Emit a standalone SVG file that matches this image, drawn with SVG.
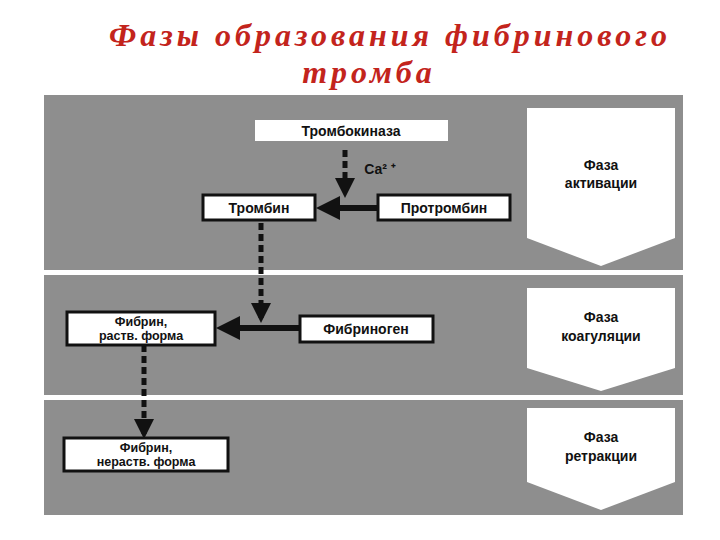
<svg xmlns="http://www.w3.org/2000/svg" width="720" height="540" viewBox="0 0 720 540">
<defs>
<marker id="ah" markerWidth="4" markerHeight="4" refX="3" refY="2" orient="auto" markerUnits="strokeWidth"><path d="M0,0 L4,2 L0,4 Z" fill="#111"/></marker>
<style>
.t{font-family:"Liberation Sans",Arial,sans-serif;font-weight:bold;font-size:14px;fill:#111;text-anchor:middle}
.t2{font-family:"Liberation Sans",Arial,sans-serif;font-weight:bold;font-size:12.5px;fill:#111;text-anchor:middle}
.b{fill:#fff;stroke:#111;stroke-width:3}
.p{fill:#fff}
.d{stroke:#111;stroke-width:5;stroke-dasharray:7,4;fill:none}
.s{stroke:#111;stroke-width:6;fill:none}
.h{font-family:"Liberation Serif","Times New Roman",serif;font-style:italic;font-weight:bold;font-size:32px;letter-spacing:4px;fill:#c3241c;text-anchor:middle}
</style>
</defs>
<rect width="720" height="540" fill="#fff"/>
<text class="h" x="390" y="46">Фазы образования фибринового</text>
<text class="h" x="369" y="83">тромба</text>
<rect x="44" y="95" width="639" height="420" fill="#8e8e8e"/>
<rect x="44" y="270" width="639" height="5" fill="#fff"/>
<rect x="44" y="395" width="639" height="5" fill="#fff"/>
<g id="phase1"><polygon class="p" points="527,108 675,108 675,238 601,266 527,238"/><text class="t" x="601" y="170">Фаза</text><text class="t" x="601" y="188">активации</text></g>
<g id="phase2"><polygon class="p" points="527,288 675,288 675,368 601,391 527,368"/><text class="t" x="601" y="322">Фаза</text><text class="t" x="601" y="341">коагуляции</text></g>
<g id="phase3"><polygon class="p" points="527,408 675,408 675,482 601,510 527,482"/><text class="t" x="601" y="442">Фаза</text><text class="t" x="601" y="461">ретракции</text></g>
<g id="connectors">
<line class="d" x1="345" y1="150" x2="345" y2="193" marker-end="url(#ah)"/>
<line class="s" x1="378" y1="208" x2="322" y2="208" marker-end="url(#ah)"/>
<line class="d" x1="261" y1="223" x2="261" y2="318" marker-end="url(#ah)"/>
<line class="s" x1="300" y1="328" x2="222" y2="328" marker-end="url(#ah)"/>
<line class="d" x1="144" y1="345" x2="144" y2="434" marker-end="url(#ah)"/>
</g>
<text class="t" x="380" y="174" font-size="13">Ca² ⁺</text>
<g id="n1"><rect x="255" y="120" width="193" height="21" fill="#fff"/><text class="t" x="351" y="136">Тромбокиназа</text></g>
<g id="n2"><rect class="b" x="203" y="195" width="112" height="25"/><text class="t" x="259" y="213">Тромбин</text></g>
<g id="n3"><rect class="b" x="378" y="195" width="132" height="25"/><text class="t" x="444" y="213">Протромбин</text></g>
<g id="n4"><rect class="b" x="67" y="312" width="148" height="33"/><text class="t2" x="141" y="326">Фибрин,</text><text class="t2" x="141" y="340">раств. форма</text></g>
<g id="n5"><rect class="b" x="300" y="316" width="133" height="26"/><text class="t" x="366" y="334">Фибриноген</text></g>
<g id="n6"><rect class="b" x="64" y="438" width="164" height="33"/><text class="t2" x="146" y="452">Фибрин,</text><text class="t2" x="146" y="466">нераств. форма</text></g>
</svg>
